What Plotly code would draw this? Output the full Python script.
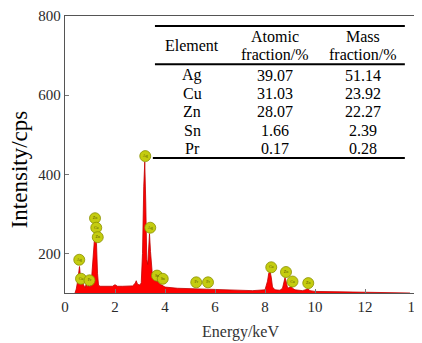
import plotly.graph_objects as go

# Spectrum
energy = [0.40, 0.45, 0.50, 0.55, 0.58, 0.62, 0.66, 0.70, 0.75, 0.80, 0.85, 0.90, 0.95, 1.00, 1.05,
          1.10, 1.14, 1.18, 1.22, 1.26, 1.30, 1.34, 1.40, 1.50, 1.60, 1.70, 1.80, 1.90, 2.00, 2.05,
          2.10, 2.30, 2.50, 2.70, 2.80, 2.85, 2.90, 3.00, 3.05, 3.10, 3.15, 3.19, 3.23, 3.27, 3.31,
          3.35, 3.38, 3.42, 3.46, 3.50, 3.55, 3.60, 3.65, 3.70, 3.75, 3.80, 3.85, 3.90, 4.00, 4.50,
          5.00, 5.50, 6.00, 6.50, 7.00, 7.50, 8.00, 8.10, 8.15, 8.20, 8.25, 8.30, 8.40, 8.60, 8.70,
          8.75, 8.80, 8.85, 8.90, 8.95, 9.05, 9.10, 9.20, 9.50, 9.65, 9.72, 9.80, 10.0, 11.0, 12.0,
          13.0, 13.8]
counts = [100, 110, 128, 160, 167, 140, 122, 126, 118, 113, 123, 116, 119, 116, 126,
          165, 215, 238, 240, 225, 150, 120, 117, 117, 118, 117, 118, 117, 121, 119,
          117, 117, 118, 118, 124, 131, 122, 120, 126, 200, 370, 431, 330, 185, 172,
          225, 250, 205, 155, 142, 136, 133, 129, 131, 126, 123, 121, 119, 115, 112,
          111, 110, 108, 107, 106, 106, 108, 130, 150, 155, 140, 115, 108, 107, 112,
          128, 139, 128, 114, 113, 117, 112, 108, 106, 109, 110, 106, 104, 103, 102,
          101, 100]

# Element labels
label_x = [0.57, 0.64, 0.98, 1.20, 1.25, 1.31, 3.21, 3.41, 3.68, 3.91, 5.25, 5.72, 8.25, 8.84, 9.10, 9.73]
label_y = [184, 136, 132, 289, 265, 241, 446, 265, 144, 136, 127, 127, 165, 153, 129, 125]
label_txt = ["Ag", "Cu", "Pr", "Zn", "Cu", "Zn", "Ag", "Ag", "Sn", "Sn", "Pr", "Pr", "Cu", "Zn", "Cu", "Zn"]

# Table
tbl_elements = ["Ag", "Cu", "Zn", "Sn", "Pr"]
tbl_atomic = ["39.07", "31.03", "28.07", "1.66", "0.17"]
tbl_mass = ["51.14", "23.92", "22.27", "2.39", "0.28"]

x_ticks = [0, 2, 4, 6, 8, 10, 12, 14]
y_ticks = [200, 400, 600, 800]

SERIF = "Liberation Serif, Times New Roman, serif"

fig = go.Figure()
fig.add_trace(go.Scatter(x=energy, y=counts, mode="lines", fill="tozeroy",
                         fillcolor="#ff0000", line=dict(color="#c00000", width=0.8),
                         showlegend=False, hoverinfo="skip"))
fig.add_trace(go.Scatter(x=label_x, y=label_y, mode="markers+text", text=label_txt,
                         textposition="middle center",
                         textfont=dict(size=4, color="#555500", family=SERIF),
                         marker=dict(symbol="circle", size=11, color="#c4cc10",
                                     line=dict(color="#8a9000", width=0.8)),
                         showlegend=False, hoverinfo="skip"))

axis_common = dict(showline=True, linecolor="#555555", linewidth=1.3, mirror=True,
                   ticks="inside", ticklen=4, tickcolor="#777777", showgrid=False, zeroline=False,
                   automargin=False, ticklabeloverflow="allow",
                   tickfont=dict(family=SERIF, size=15, color="#2a2a2a"))
fig.update_xaxes(range=[0, 14], tickvals=x_ticks, ticktext=[str(v) for v in x_ticks], **axis_common)
fig.update_yaxes(range=[100, 800], tickvals=y_ticks, ticktext=[str(v) for v in y_ticks], **axis_common)

# table lines
shapes = [
    dict(type="line", xref="paper", yref="paper", x0=0.257, x1=0.971, y0=0.964, y1=0.964,
         line=dict(color="black", width=2)),
    dict(type="line", xref="paper", yref="paper", x0=0.257, x1=0.971, y0=0.826, y1=0.826,
         line=dict(color="black", width=2)),
    dict(type="line", xref="paper", yref="paper", x0=0.251, x1=0.971, y0=0.487, y1=0.487,
         line=dict(color="black", width=2)),
]

ann = []
tf = dict(family=SERIF, size=16, color="black")
ann.append(dict(text="Element", x=0.363, y=0.894, xref="paper", yref="paper", showarrow=False,
                xanchor="center", yanchor="middle", font=tf))
ann.append(dict(text="Atomic", x=0.6, y=0.927, xref="paper", yref="paper", showarrow=False,
                xanchor="center", yanchor="middle", font=tf))
ann.append(dict(text="fraction/%", x=0.6, y=0.862, xref="paper", yref="paper", showarrow=False,
                xanchor="center", yanchor="middle", font=tf))
ann.append(dict(text="Mass", x=0.851, y=0.927, xref="paper", yref="paper", showarrow=False,
                xanchor="center", yanchor="middle", font=tf))
ann.append(dict(text="fraction/%", x=0.851, y=0.862, xref="paper", yref="paper", showarrow=False,
                xanchor="center", yanchor="middle", font=tf))
row_y = [0.786, 0.721, 0.656, 0.587, 0.522]
for i in range(len(tbl_elements)):
    for xc, col in ((0.363, tbl_elements), (0.6, tbl_atomic), (0.851, tbl_mass)):
        ann.append(dict(text=col[i], x=xc, y=row_y[i], xref="paper", yref="paper", showarrow=False,
                        xanchor="center", yanchor="middle", font=tf))

ann.append(dict(text="Intensity/cps", x=-0.131, y=0.447, xref="paper", yref="paper", showarrow=False,
                textangle=-90, xanchor="center", yanchor="middle",
                font=dict(family=SERIF, size=23, color="black")))
ann.append(dict(text="Energy/keV", x=0.5, y=-0.142, xref="paper", yref="paper", showarrow=False,
                xanchor="center", yanchor="middle",
                font=dict(family=SERIF, size=16, color="#333333")))

# page body has an 8px margin: shrink figure so the plot lands where the reference has it
fig.update_layout(width=414, height=335, margin=dict(l=57, r=7, t=8, b=50, autoexpand=False),
                  paper_bgcolor="white", plot_bgcolor="white",
                  shapes=shapes, annotations=ann)

fig.write_html("out.html")
